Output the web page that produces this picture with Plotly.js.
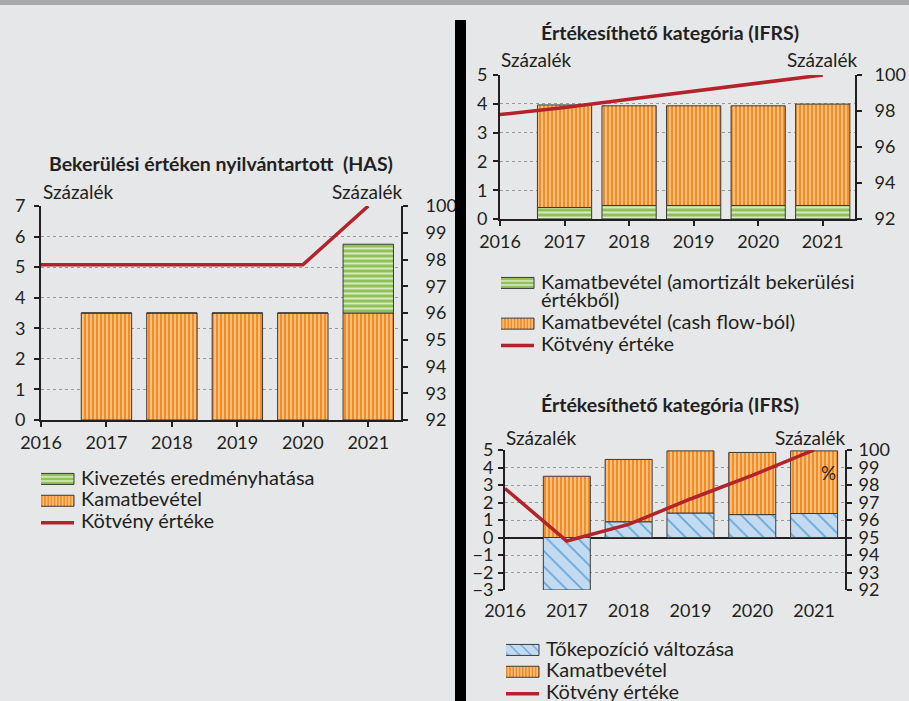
<!DOCTYPE html>
<html><head><meta charset="utf-8">
<script src="https://cdn.plot.ly/plotly-3.0.1.min.js"></script>
<style>html,body{margin:0;padding:0;background:#e6e7e8;overflow:hidden;}#c{width:909px;height:701px;}</style>
</head><body><div id="c"></div>
<script>
// ---- data ----
const years = [2016, 2017, 2018, 2019, 2020, 2021];
const yearLabels = ['2016', '2017', '2018', '2019', '2020', '2021'];
const barYears = [2017, 2018, 2019, 2020, 2021];

// Panel 1: Bekerülési értéken nyilvántartott (HAS)
const hasKamat = [3.5, 3.5, 3.5, 3.5, 3.5];
const hasKivezetes = [0, 0, 0, 0, 2.25];
const hasKotveny = [97.8, 97.8, 97.8, 97.8, 97.8, 100];

// Panel 2: Értékesíthető kategória (IFRS) – top
const ifrsAmort = [0.4, 0.47, 0.47, 0.47, 0.47];
const ifrsCash = [3.56, 3.46, 3.46, 3.46, 3.52];
const ifrsKotveny = [97.8, 98.2, 98.65, 99.1, 99.55, 100];

// Panel 3: Értékesíthető kategória (IFRS) – bottom
const ifrs2Toke = [-3.0, 0.9, 1.4, 1.31, 1.37];
const ifrs2Kamat = [3.5, 3.56, 3.55, 3.55, 3.58];
const ifrs2Kotveny = [97.8, 94.8, 95.75, 97.2, 98.55, 100];

// ---- styles ----
const W = 909, H = 701;
const px = v => v / W, py = v => 1 - v / H;
const FONT = 'Lato, "Open Sans", sans-serif';
const TXT = '#231f20';
const RED = '#b3232b';
const LEG = 20; // legend text size
const lg = s => s.split('<br>').map(t => '<span style="font-size:' + LEG + 'px">' + t + '</span>').join('<br>');
const outline = {color: '#3a3a3a', width: 1};
const orangePat = {shape: '|', bgcolor: '#f68b1f', fgcolor: '#fdcd9c', size: 4, solidity: 0.4, fillmode: 'replace'};
const greenPat = {shape: '-', bgcolor: '#8fc157', fgcolor: '#d8eac3', size: 5, solidity: 0.4, fillmode: 'replace'};
const bluePat = {shape: '\\', bgcolor: '#c3dbf0', fgcolor: '#62a6dc', size: 11, solidity: 0.15, fillmode: 'replace'};

const traces = [
  // panel 1
  {type: 'bar', x: barYears, y: hasKamat, name: lg('Kamatbevétel'), xaxis: 'x', yaxis: 'y', width: 0.77,
   marker: {color: '#f68b1f', pattern: orangePat, line: outline}, legend: 'legend', legendrank: 2},
  {type: 'bar', x: barYears, y: hasKivezetes, name: lg('Kivezetés eredményhatása'), xaxis: 'x', yaxis: 'y', width: 0.77,
   marker: {color: '#8fc157', pattern: greenPat, line: outline}, legend: 'legend', legendrank: 1},
  {type: 'scatter', mode: 'lines', x: years, y: hasKotveny, name: lg('Kötvény értéke'), xaxis: 'x', yaxis: 'y2',
   line: {color: RED, width: 3.5}, legend: 'legend', legendrank: 3},
  // panel 2
  {type: 'bar', x: barYears, y: ifrsAmort, name: lg('Kamatbevétel (amortizált bekerülési<br>értékből)'), xaxis: 'x2', yaxis: 'y3', width: 0.84,
   marker: {color: '#8fc157', pattern: greenPat, line: outline}, legend: 'legend2', legendrank: 1},
  {type: 'bar', x: barYears, y: ifrsCash, name: lg('Kamatbevétel (cash flow-ból)'), xaxis: 'x2', yaxis: 'y3', width: 0.84,
   marker: {color: '#f68b1f', pattern: orangePat, line: outline}, legend: 'legend2', legendrank: 2},
  {type: 'scatter', mode: 'lines', x: years, y: ifrsKotveny, name: lg('Kötvény értéke'), xaxis: 'x2', yaxis: 'y4',
   line: {color: RED, width: 3.5}, legend: 'legend2', legendrank: 3},
  // panel 3
  {type: 'bar', x: barYears, y: ifrs2Toke, name: lg('Tőkepozíció változása'), xaxis: 'x3', yaxis: 'y5', width: 0.76,
   marker: {color: '#c3dbf0', pattern: bluePat, line: outline}, legend: 'legend3', legendrank: 1},
  {type: 'bar', x: barYears, y: ifrs2Kamat, name: lg('Kamatbevétel'), xaxis: 'x3', yaxis: 'y5', width: 0.76,
   marker: {color: '#f68b1f', pattern: orangePat, line: outline}, legend: 'legend3', legendrank: 2},
  {type: 'scatter', mode: 'lines', x: years, y: ifrs2Kotveny, name: lg('Kötvény értéke'), xaxis: 'x3', yaxis: 'y6',
   line: {color: RED, width: 3.5}, legend: 'legend3', legendrank: 3}
];

const tickFont = {family: FONT, size: 18, color: TXT};
function xAx(d0, d1, anchor, extra) {
  return Object.assign({domain: [px(d0), px(d1)], anchor: anchor, range: [2016, 2021.5], type: 'linear',
    tickvals: years, ticktext: yearLabels, showline: true, linecolor: TXT, linewidth: 2,
    ticks: 'outside', ticklen: 5, tickwidth: 2, tickcolor: TXT, showgrid: false, zeroline: false,
    tickfont: tickFont, fixedrange: true}, extra || {});
}
function yL(t, b, range, dtick, anchor, so, extra) {
  return Object.assign({domain: [py(b), py(t)], anchor: anchor, range: range, dtick: dtick, tick0: 0,
    showline: true, linecolor: TXT, linewidth: 2, ticks: 'outside', ticklen: 5, tickwidth: 2, tickcolor: TXT,
    showgrid: true, gridcolor: '#9a9a9a', gridwidth: 1, griddash: 'dot', zeroline: false, ticklabelstandoff: so,
    tickfont: tickFont, fixedrange: true}, extra || {});
}
function yR(range, dtick, overlay, anchor, so) {
  return {overlaying: overlay, anchor: anchor, side: 'right', range: range, dtick: dtick, tick0: 92,
    showline: true, linecolor: TXT, linewidth: 2, ticks: 'outside', ticklen: 5, tickwidth: 2, tickcolor: TXT,
    showgrid: false, zeroline: false, ticklabelstandoff: so, tickfont: tickFont, fixedrange: true};
}

const ann = (text, x, y, size, extra) => Object.assign({text: text, x: px(x), y: py(y), xref: 'paper', yref: 'paper',
  showarrow: false, xanchor: 'center', yanchor: 'middle', font: {family: FONT, size: size, color: TXT}}, extra || {});

const legendBase = {bgcolor: 'rgba(0,0,0,0)', font: {family: FONT, size: 14.5, color: TXT}, xanchor: 'left', yanchor: 'top',
  traceorder: 'normal', valign: 'top', tracegroupgap: 0, itemclick: false, itemdoubleclick: false, borderwidth: 0};

const layout = {
  width: W, height: H, margin: {l: 0, r: 0, t: 0, b: 0, pad: 0, autoexpand: false},
  paper_bgcolor: '#e6e7e8', plot_bgcolor: 'rgba(0,0,0,0)',
  font: {family: FONT, color: TXT}, barmode: 'relative', bargap: 0.2, showlegend: true,
  xaxis: xAx(41, 401, 'y'),
  yaxis: yL(206, 420, [0, 7], 1, 'x', 5),
  yaxis2: yR([92, 100], 1, 'y', 'x', 14),
  xaxis2: xAx(500, 855, 'y3'),
  yaxis3: yL(75, 219, [0, 5], 1, 'x2', 2),
  yaxis4: yR([92, 100], 2, 'y3', 'x2', 9),
  xaxis3: xAx(505, 845, 'y5', {showline: false, ticks: '', ticklabelstandoff: 8}),
  xaxis4: {overlaying: 'x3', anchor: 'free', position: py(537.3), range: [2016, 2021.5], type: 'linear',
    tickvals: [2016.5, 2017.5, 2018.5, 2019.5, 2020.5], showticklabels: false, ticks: 'outside', ticklen: 5,
    tickwidth: 2, tickcolor: TXT, showline: false, showgrid: false, zeroline: false, fixedrange: true},
  yaxis5: yL(450, 590, [-3, 5], 1, 'x3', 1, {zeroline: true, zerolinecolor: TXT, zerolinewidth: 2}),
  yaxis6: yR([92, 100], 1, 'y5', 'x3', 3),
  legend: Object.assign({}, legendBase, {x: px(41), y: py(463)}),
  legend2: Object.assign({}, legendBase, {x: px(501), y: py(267)}),
  legend3: Object.assign({}, legendBase, {x: px(506), y: py(634)}),
  shapes: [
    {type: 'rect', xref: 'paper', yref: 'paper', x0: 0, x1: 1, y0: py(5), y1: 1, fillcolor: '#a7a9ac', line: {width: 0}, layer: 'below'},
    {type: 'rect', xref: 'paper', yref: 'paper', x0: px(455), x1: px(466), y0: 0, y1: py(20), fillcolor: '#000000', line: {width: 0}}
  ],
  annotations: [
    ann('<b>Bekerülési értéken nyilvántartott  (HAS)</b>', 221, 163, 19.5),
    ann('Százalék', 78, 192, 19),
    ann('Százalék', 367, 192, 19),
    ann('<b>Értékesíthető kategória (IFRS)</b>', 670, 32, 19.5),
    ann('Százalék', 536, 60, 19),
    ann('Százalék', 822, 60, 19),
    ann('<b>Értékesíthető kategória (IFRS)</b>', 670, 405, 19.5),
    ann('Százalék', 541, 437, 19),
    ann('Százalék', 810, 437, 19),
    ann('%', 828, 472, 19)
  ]
};

function widenKeys(gd) {
  // widen legend keys to the reference's rectangular swatches
  gd.querySelectorAll('g.legendpoints path').forEach(function (p) {
    const d = (p.getAttribute('d') || '').replace(/\s/g, '');
    if (/^M6,6H-6V-6H6Z$/i.test(d)) p.setAttribute('d', 'M13,5.5H-22V-5.5H13Z');
  });
  gd.querySelectorAll('g.legendlines path.js-line').forEach(function (p) {
    p.setAttribute('d', 'M-4,0h37');
  });
}
Plotly.newPlot('c', traces, layout, {displayModeBar: false, staticPlot: true}).then(function (gd) {
  widenKeys(gd);
  setTimeout(function () { widenKeys(gd); }, 50);
});
</script></body></html>
